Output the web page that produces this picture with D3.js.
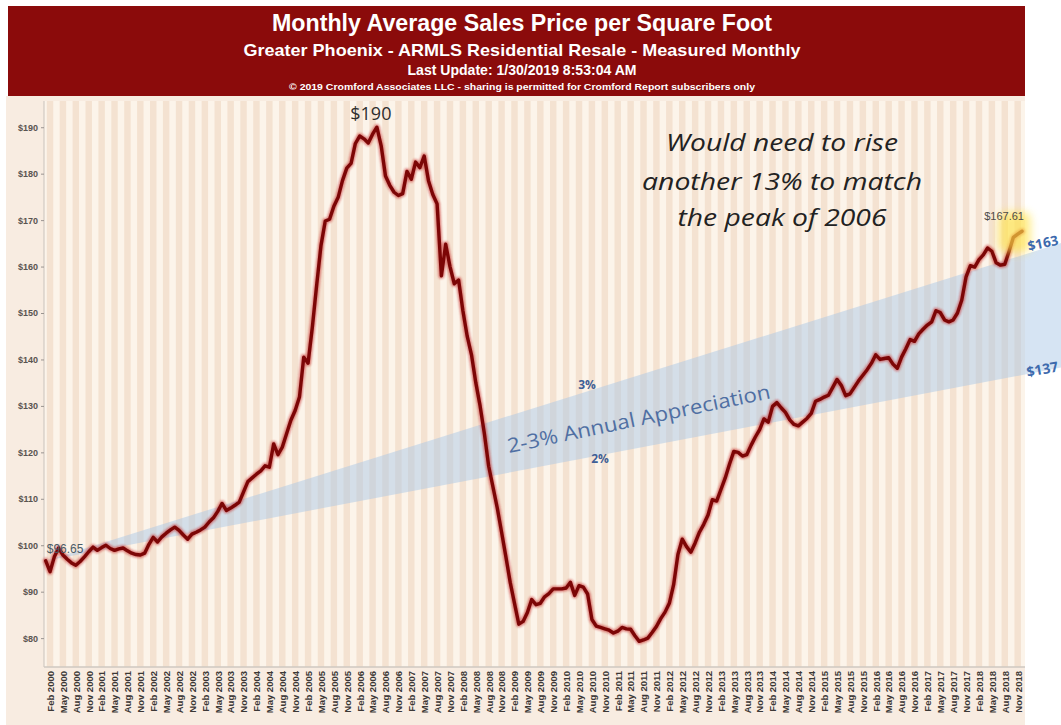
<!DOCTYPE html>
<html>
<head>
<meta charset="utf-8">
<script src="https://cdn.jsdelivr.net/npm/d3@7"></script>
<style>
  html, body { margin: 0; padding: 0; background: #ffffff; }
  svg { display: block; }
</style>
</head>
<body>
<svg id="chart" width="1061" height="725"></svg>
<script>
// ---- Chart content -------------------------------------------------------
const titleText = "Monthly Average Sales Price per Square Foot";
const subtitleText = "Greater Phoenix - ARMLS Residential Resale - Measured Monthly";
const updateText = "Last Update: 1/30/2019 8:53:04 AM";
const copyrightText = "\u00A9 2019 Cromford Associates LLC - sharing is permitted for Cromford Report subscribers only";

// Monthly average sales price per square foot, January of each year onward
const price2000 = [96.65, 94.3, 97.5, 99.4, 97.9, 97.0, 96.2, 95.7, 96.5, 97.5, 98.6, 99.6];
const price2001 = [98.9, 99.5, 100.0, 99.3, 98.9, 99.2, 99.4, 98.8, 98.3, 98.0, 97.9, 98.3];
const price2002 = [100.2, 101.7, 100.7, 101.8, 102.6, 103.3, 103.9, 103.2, 102.2, 101.3, 102.4, 102.8];
const price2003 = [103.3, 103.9, 105.0, 105.9, 107.3, 109.0, 107.5, 108.0, 108.6, 109.3, 111.5, 113.7];
const price2004 = [114.5, 115.3, 116.0, 117.1, 116.8, 121.8, 119.5, 121.1, 124.0, 126.9, 129.0, 131.9];
const price2005 = [140.5, 139.2, 147.0, 156.0, 164.5, 169.8, 170.2, 173.0, 174.9, 178.5, 181.2, 182.2];
const price2006 = [186.5, 188.1, 187.5, 186.6, 188.5, 190.0, 186.0, 179.5, 177.5, 176.0, 175.3, 175.7];
const price2007 = [180.5, 178.8, 182.5, 181.3, 183.8, 178.5, 175.5, 173.5, 158.0, 164.8, 160.0, 156.3];
const price2008 = [157.1, 150.5, 145.0, 141.0, 135.0, 130.0, 124.0, 117.0, 112.5, 108.0, 102.8, 97.5];
const price2009 = [92.0, 87.5, 83.0, 83.6, 85.5, 88.3, 87.2, 87.5, 88.9, 89.6, 90.6, 90.6];
const price2010 = [90.6, 90.8, 92.0, 89.2, 91.3, 91.0, 89.5, 84.0, 82.6, 82.3, 82.0, 81.7];
const price2011 = [81.1, 81.5, 82.3, 82.0, 81.9, 80.5, 79.3, 79.6, 80.0, 81.2, 82.5, 84.2];
const price2012 = [85.6, 87.5, 91.5, 98.0, 101.3, 99.7, 98.5, 100.5, 102.8, 104.5, 106.5, 109.8];
const price2013 = [109.5, 112.0, 114.5, 117.5, 120.2, 120.0, 119.2, 119.5, 121.5, 123.3, 124.9, 127.2];
const price2014 = [126.5, 129.9, 130.7, 129.6, 128.6, 127.0, 126.0, 125.7, 126.5, 127.3, 128.4, 131.0];
const price2015 = [131.4, 131.9, 132.3, 134.0, 135.7, 134.4, 132.2, 132.6, 134.0, 135.4, 136.6, 137.8];
const price2016 = [139.2, 141.0, 140.0, 140.2, 140.4, 139.0, 138.1, 140.5, 142.3, 144.3, 143.9, 145.5];
const price2017 = [146.5, 147.4, 148.1, 150.5, 150.1, 148.5, 148.1, 148.5, 150.0, 152.8, 157.8, 160.2];
const price2018 = [159.9, 161.5, 162.5, 164.0, 163.3, 160.8, 160.3, 160.5, 163.3, 166.3, 167.0, 167.61];

const yTickValues = [80, 90, 100, 110, 120, 130, 140, 150, 160, 170, 180, 190];
const xTickMonths = ["Feb", "May", "Aug", "Nov"];
const xTickYears = [2000, 2001, 2002, 2003, 2004, 2005, 2006, 2007, 2008, 2009,
                    2010, 2011, 2012, 2013, 2014, 2015, 2016, 2017, 2018];

// 2-3% annual appreciation band: start value and projected end values
const bandStartValue = 96.65;
const bandHighValue = 163;   // 3% path
const bandLowValue = 137;    // 2% path
const bandEndMonth = 229;

const noteLines = ["Would need to rise", "another 13% to match", "the peak of 2006"];
const bandLabel = "2-3% Annual Appreciation";

// ---- Derived series ------------------------------------------------------
const prices = [].concat(price2000, price2001, price2002, price2003, price2004,
  price2005, price2006, price2007, price2008, price2009, price2010, price2011,
  price2012, price2013, price2014, price2015, price2016, price2017, price2018);
const series = prices.map((v, i) => ({ i, v }));
const monthIndexOf = (year, monthName) =>
  (year - 2000) * 12 + ["Jan","Feb","Mar","Apr","May","Jun","Jul","Aug","Sep","Oct","Nov","Dec"].indexOf(monthName);
const xTicks = [];
xTickYears.forEach(yr => xTickMonths.forEach(m => xTicks.push({ i: monthIndexOf(yr, m), label: m + " " + yr })));

// ---- Layout --------------------------------------------------------------
const W = 1061, H = 725;
const plot = { left: 44, right: 1025, top: 101, bottom: 667 };

const svg = d3.select("#chart");
const x = d3.scaleLinear().domain([-0.4, 227.7]).range([plot.left, plot.right]);
const y = d3.scaleLinear().domain([74, 195]).range([666, 104]);

const defs = svg.append("defs");
defs.append("filter").attr("id", "soft").attr("x", "-50%").attr("y", "-50%")
  .attr("width", "200%").attr("height", "200%")
  .append("feGaussianBlur").attr("stdDeviation", 4);
defs.append("filter").attr("id", "lineGlow").attr("x", "-5%").attr("y", "-5%")
  .attr("width", "110%").attr("height", "110%")
  .append("feGaussianBlur").attr("stdDeviation", 0.8);
defs.append("clipPath").attr("id", "plotClip")
  .append("rect").attr("x", plot.left).attr("y", plot.top)
  .attr("width", plot.right - plot.left).attr("height", plot.bottom - plot.top);

// Chart background
svg.append("rect").attr("x", 0).attr("y", 0).attr("width", W).attr("height", H).attr("fill", "#ffffff");
svg.append("rect").attr("x", 6).attr("y", 96).attr("width", plot.right - 6).attr("height", H - 96)
  .attr("fill", "#f8ece1");

// Title banner
svg.append("rect").attr("x", 8).attr("y", 6).attr("width", 1017).attr("height", 90).attr("fill", "#8b0b0b");
const bannerFont = "'Liberation Sans Narrow', 'Arial Narrow', 'Liberation Sans', Arial, sans-serif";
const bannerText = [
  { t: titleText, size: 24, base: 31, len: 500 },
  { t: subtitleText, size: 17, base: 56, len: 557 },
  { t: updateText, size: 14, base: 75, len: 229 },
  { t: copyrightText, size: 9, base: 90, len: 466 }
];
svg.selectAll("text.banner").data(bannerText).enter().append("text")
  .attr("class", "banner")
  .attr("x", 522).attr("y", d => d.base)
  .attr("text-anchor", "middle")
  .attr("font-family", bannerFont).attr("font-weight", "bold")
  .attr("font-size", d => d.size)
  .attr("textLength", d => d.len).attr("lengthAdjust", "spacingAndGlyphs")
  .attr("fill", "#ffffff")
  .text(d => d.t);

// Plot background with quarterly stripes
svg.append("rect").attr("x", plot.left).attr("y", plot.top)
  .attr("width", plot.right - plot.left).attr("height", plot.bottom - plot.top)
  .attr("fill", "#fcf4ea");
svg.append("g").attr("clip-path", "url(#plotClip)")
  .selectAll("rect").data(xTicks).enter().append("rect")
  .attr("x", d => x(d.i - 0.75)).attr("width", d => x(d.i + 0.75) - x(d.i - 0.75))
  .attr("y", plot.top).attr("height", plot.bottom - plot.top)
  .attr("fill", "#f4e2d1");

// Plot frame
svg.append("line").attr("x1", plot.left).attr("x2", plot.left)
  .attr("y1", plot.top).attr("y2", plot.bottom).attr("stroke", "#c9c2bb").attr("stroke-width", 1);
svg.append("line").attr("x1", plot.left).attr("x2", plot.right)
  .attr("y1", plot.bottom).attr("y2", plot.bottom).attr("stroke", "#cfc8c1").attr("stroke-width", 1.5);

// Y axis
const yAxis = d3.axisLeft(y).tickValues(yTickValues).tickSize(3).tickPadding(3)
  .tickFormat(d => "$" + d);
const yg = svg.append("g").attr("transform", `translate(${plot.left},0)`).call(yAxis);
yg.select(".domain").remove();
yg.selectAll(".tick line").attr("stroke", "#9a9490");
yg.selectAll(".tick text").attr("font-family", "'Liberation Sans', Arial, sans-serif")
  .attr("font-size", 9).attr("font-weight", "bold").attr("fill", "#5a5450");

// X axis (quarterly, rotated labels)
const xAxis = d3.axisBottom(x).tickValues(xTicks.map(d => d.i)).tickSize(0).tickPadding(0)
  .tickFormat((d, k) => xTicks[k].label);
const xg = svg.append("g").attr("transform", `translate(0,${plot.bottom})`).call(xAxis);
xg.select(".domain").remove();
xg.selectAll(".tick text")
  .attr("transform", "rotate(-90)")
  .attr("x", -4).attr("y", 0).attr("dy", "0.35em")
  .attr("text-anchor", "end")
  .attr("font-family", "'Liberation Sans', Arial, sans-serif")
  .attr("font-size", 9.5).attr("font-weight", "bold").attr("fill", "#3c3836");

// 2-3% appreciation band, extended to the page edge
const monthAtEdge = x.invert(W + 2);
const highSlope = (bandHighValue - bandStartValue) / bandEndMonth;
const lowSlope = (bandLowValue - bandStartValue) / bandEndMonth;
const bandPts = [
  [x(0), y(bandStartValue)],
  [x(monthAtEdge), y(bandStartValue + highSlope * monthAtEdge)],
  [x(monthAtEdge), y(bandStartValue + lowSlope * monthAtEdge)]
];
svg.append("path").attr("d", d3.line()(bandPts) + "Z")
  .attr("fill", "rgba(168, 197, 229, 0.47)");

// Price line
const line = d3.line().x(d => x(d.i)).y(d => y(d.v));
svg.append("path").datum(series).attr("d", line)
  .attr("fill", "none").attr("stroke", "#c42424").attr("stroke-width", 6)
  .attr("stroke-linejoin", "round").attr("stroke-linecap", "round")
  .attr("opacity", 0.55).attr("filter", "url(#lineGlow)");
svg.append("path").datum(series).attr("d", line)
  .attr("fill", "none").attr("stroke", "#7c0606").attr("stroke-width", 3.4)
  .attr("stroke-linejoin", "round").attr("stroke-linecap", "round");

// Highlight over the latest months
const last = series[series.length - 1];
svg.append("rect")
  .attr("x", x(last.i - 5.5)).attr("y", y(last.v + 4.2))
  .attr("width", x(last.i + 2) - x(last.i - 5.5)).attr("height", y(last.v - 4.6) - y(last.v + 4.2))
  .attr("rx", 8).attr("fill", "#ffe34a").attr("opacity", 0.65).attr("filter", "url(#soft)");

// Value labels
const labelFont = "'Liberation Sans', Arial, sans-serif";
svg.append("text").attr("x", x(0) + 1).attr("y", y(series[0].v) - 8)
  .attr("font-family", labelFont).attr("font-size", 12).attr("fill", "#4b5c68")
  .text("$" + series[0].v.toFixed(2));
svg.append("text").attr("x", x(last.i) + 2).attr("y", y(last.v) - 11)
  .attr("text-anchor", "end")
  .attr("font-family", labelFont).attr("font-size", 11).attr("fill", "#4e4a46")
  .text("$" + last.v.toFixed(2));

const peak = series.reduce((a, b) => (b.v > a.v ? b : a));
svg.append("text").attr("x", x(peak.i) - 6).attr("y", y(peak.v) - 7)
  .attr("text-anchor", "middle")
  .attr("font-family", "'Open Sans', 'Noto Sans', sans-serif").attr("font-size", 18).attr("fill", "#2e2e2e")
  .text("$" + peak.v.toFixed(0));

// Note about the 2006 peak
const noteFont = "'Open Sans', 'Noto Sans', sans-serif";
const noteLayout = [{ base: 151, len: 232 }, { base: 190, len: 280 }, { base: 226, len: 209 }];
svg.selectAll("text.note").data(noteLines).enter().append("text")
  .attr("class", "note")
  .attr("x", 782).attr("y", (d, k) => noteLayout[k].base)
  .attr("text-anchor", "middle")
  .attr("font-family", noteFont).attr("font-style", "italic").attr("font-size", 23)
  .attr("textLength", (d, k) => noteLayout[k].len).attr("lengthAdjust", "spacingAndGlyphs")
  .attr("fill", "#222222")
  .text(d => d);

// Band annotations
svg.append("text")
  .attr("transform", "translate(509,453) rotate(-11.8)")
  .attr("font-family", noteFont).attr("font-size", 20).attr("fill", "#4f6fa3")
  .attr("textLength", 268).attr("lengthAdjust", "spacingAndGlyphs")
  .text(bandLabel);
svg.append("text").attr("x", 587).attr("y", 389).attr("text-anchor", "middle")
  .attr("font-family", noteFont).attr("font-weight", "bold").attr("font-size", 12).attr("fill", "#3f5f96")
  .text("3%");
svg.append("text").attr("x", 600).attr("y", 463).attr("text-anchor", "middle")
  .attr("font-family", noteFont).attr("font-weight", "bold").attr("font-size", 12).attr("fill", "#3f5f96")
  .text("2%");
svg.append("text")
  .attr("transform", `translate(${W - 2},${y(bandHighValue) - 8}) rotate(-12)`)
  .attr("text-anchor", "end")
  .attr("font-family", noteFont).attr("font-weight", "bold").attr("font-size", 13.5).attr("fill", "#3d6aad")
  .text("$" + bandHighValue);
svg.append("text")
  .attr("transform", `translate(${W - 2},${y(bandLowValue) - 2}) rotate(-10)`)
  .attr("text-anchor", "end")
  .attr("font-family", noteFont).attr("font-weight", "bold").attr("font-size", 14).attr("fill", "#3d6aad")
  .text("$" + bandLowValue);
</script>
</body>
</html>
